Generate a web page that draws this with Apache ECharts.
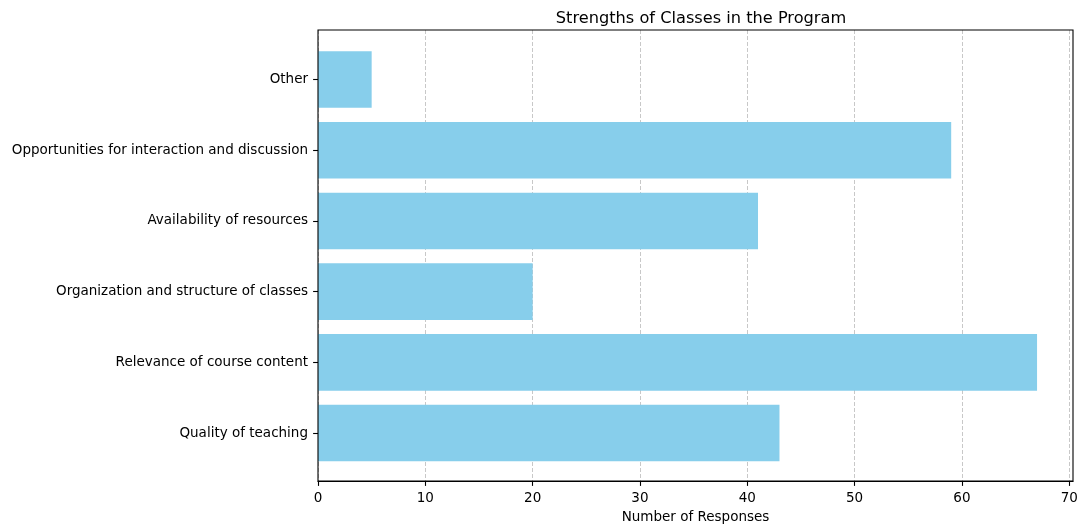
<!DOCTYPE html>
<html>
<head>
<meta charset="utf-8">
<script src="https://cdn.jsdelivr.net/npm/echarts@6/dist/echarts.min.js"></script>
<style>html,body{margin:0;padding:0;background:#fff}#c{width:1084px;height:524px}</style>
</head>
<body>
<div id="c"></div>
<script>
const categories = ["Quality of teaching", "Relevance of course content", "Organization and structure of classes", "Availability of resources", "Opportunities for interaction and discussion", "Other"];
const responses = [43, 67, 20, 41, 59, 5];
const xTicks = [0, 10, 20, 30, 40, 50, 60, 70];
const chartTitle = "Strengths of Classes in the Program";
const xTitle = "Number of Responses";

const FONT = "DejaVu Sans";
const FS = 13.5;
const xMax = Math.max(...responses) * 1.05;
const chart = echarts.init(document.getElementById('c'), null, {renderer: 'canvas'});
chart.setOption({
  animation: false,
  backgroundColor: '#fff',
  textStyle: {fontFamily: FONT},
  title: {text: chartTitle, left: 696, textAlign: 'center', top: 6,
    textStyle: {fontFamily: FONT, fontSize: 16.2, fontWeight: 'normal', color: '#000'}},
  grid: [
    {left: 318, top: 30, width: 755, height: 451, show: true, borderColor: '#000', borderWidth: 1.1,
      backgroundColor: 'transparent', z: 5, containLabel: false, outerBoundsMode: 'none'},
    {left: 318, top: 44.2, width: 755, height: 424.2, show: false, containLabel: false, outerBoundsMode: 'none'}
  ],
  xAxis: [
    {type: 'value', gridIndex: 0, min: 0, max: xMax, interval: 10,
      name: xTitle, nameLocation: 'middle', nameGap: 29,
      nameTextStyle: {fontFamily: FONT, fontSize: FS, color: '#000'},
      axisLine: {show: true, lineStyle: {color: '#000', width: 1.1}},
      axisTick: {show: true, length: 4.9, lineStyle: {color: '#000', width: 1.1}, customValues: xTicks},
      axisLabel: {show: true, margin: 10, fontFamily: FONT, fontSize: FS, color: '#000', customValues: xTicks},
      splitLine: {show: true, lineStyle: {color: '#c8c8c8', width: 1, type: [4, 2]}}
    },
    {type: 'value', gridIndex: 1, min: 0, max: xMax, show: false, splitLine: {show: false}}
  ],
  yAxis: [
    {type: 'value', gridIndex: 0, min: 0, max: 1, show: false, splitLine: {show: false}},
    {type: 'category', gridIndex: 1, data: categories,
      axisLine: {show: false},
      axisTick: {show: true, alignWithLabel: true, length: 4.9, lineStyle: {color: '#000', width: 1.1}},
      axisLabel: {margin: 10, fontFamily: FONT, fontSize: FS, color: '#000'},
      splitLine: {show: false}
    }
  ],
  series: [{
    type: 'bar', xAxisIndex: 1, yAxisIndex: 1, data: responses, barWidth: '80%',
    itemStyle: {color: '#87CEEB'}, z: 2
  }]
});
</script>
</body>
</html>
